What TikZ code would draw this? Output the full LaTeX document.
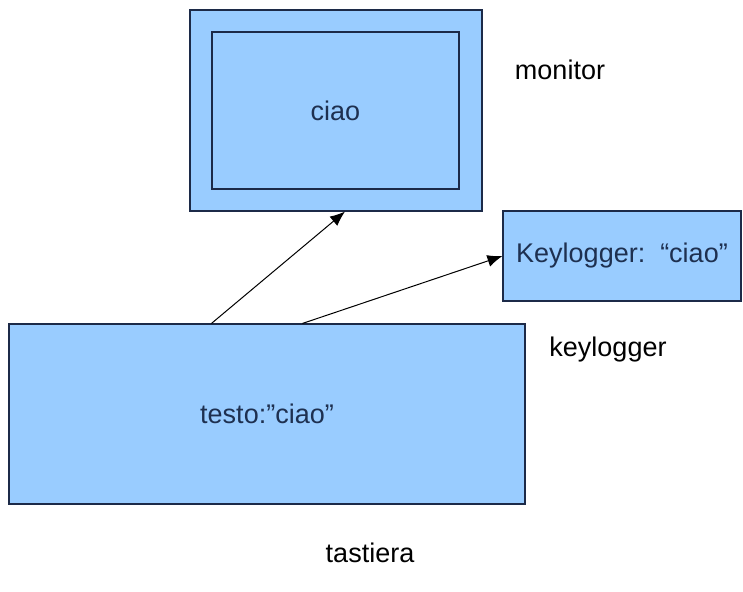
\documentclass[tikz,border=0pt]{standalone}
\usepackage{fontspec}
\setmainfont{Liberation Sans}
\usetikzlibrary{arrows.meta}
\definecolor{boxfill}{HTML}{99CCFF}
\definecolor{boxline}{HTML}{1C2A48}
\definecolor{boxtext}{HTML}{1E3050}
\begin{document}
\begin{tikzpicture}[x=1pt,y=-1pt,
  box/.style={draw=boxline,fill=boxfill,line width=1.1pt,inner sep=0pt,text=boxtext,font=\fontsize{27}{31}\selectfont},
  tag/.style={font=\fontsize{27}{31}\selectfont},
  link/.style={line width=1pt,-{Latex[length=15pt,width=12pt]}}]
\useasboundingbox (0,0) rectangle (743,591);
% monitor
\node[box,minimum width=292pt,minimum height=201pt] (monitor) at (336,110.5) {};
\node[box,minimum width=247pt,minimum height=157pt] (screen) at (335.5,110.5) {ciao};
\node[tag] (monlabel) at (560,70) {monitor};
% keylogger
\node[box,minimum width=238pt,minimum height=90pt] (keylogger) at (622,256) {Keylogger:\ \ “ciao"};
\node[tag] (keylabel) at (608,350) {keylogger};
% tastiera
\node[box,minimum width=516pt,minimum height=180pt] (tastiera) at (267,414) {testo:”ciao”};
\node[tag] (tastlabel) at (370,553) {tastiera};
% connections
\coordinate (out1) at ([xshift=203pt]tastiera.north west);
\coordinate (out2) at ([xshift=294pt]tastiera.north west);
\draw[link] (out1) -- ([xshift=9pt]monitor.south);
\draw[link] (out2) -- (keylogger.west);
\end{tikzpicture}
\end{document}
